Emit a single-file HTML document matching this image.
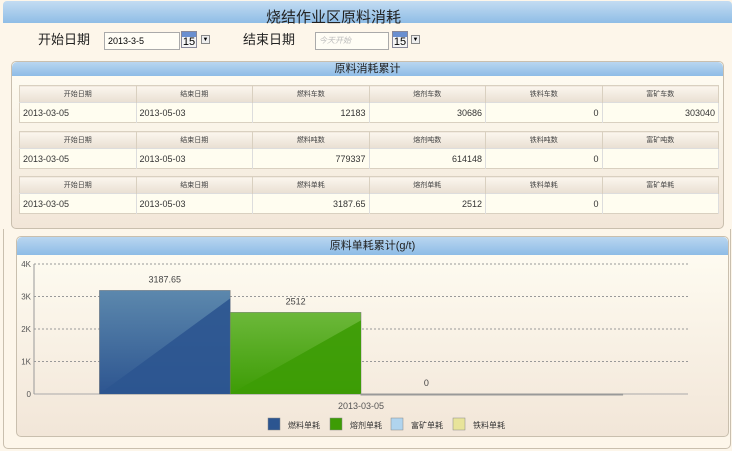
<!DOCTYPE html>
<html><head><meta charset="utf-8"><style>
*{box-sizing:border-box;margin:0;padding:0}
body{width:732px;height:451px;overflow:hidden;background:#fdf6ea;font-family:"Liberation Sans","Noto Sans CJK SC",sans-serif;position:relative}
.bar{position:absolute;background:linear-gradient(#c3dcf2,#8fbde6);}
.panel{position:absolute;border:1px solid #c9bfae;border-radius:5px;background:linear-gradient(#fffdf3,#f2e6d8)}
.ph{height:14px;background:linear-gradient(#b9d6f0,#8ebce6);border-radius:5px 5px 0 0;font-size:11px;text-align:center;line-height:14px;color:#222}
table{position:absolute;left:7px;width:700px;border-collapse:collapse;font-size:8px;table-layout:fixed;border:1px solid #d9d0c0}
th{height:17px;background:linear-gradient(#fbf6ee,#e9dfd2);font-weight:normal;color:#444;border-right:1px solid #d9d0c0;font-size:7px}
td{height:20px;background:#fffdf0;border-right:1px solid #ddd;border-top:1px solid #ddd;font-size:9px;color:#333;padding:0 3px}
td.n{text-align:right}
.lbl{position:absolute;font-size:13px;color:#222}
.inp{position:absolute;height:18px;border:1px solid #aaa;background:#fffdf5;font-size:9px;line-height:16px;padding-left:3px}
.cal{position:absolute;width:16px;height:17px;border:1px solid #889;background:linear-gradient(#6a8fd0 0 5px,#f4f4f4 5px);font-size:11px;text-align:center;line-height:20px}
.dd{position:absolute;width:9px;height:9px;border:1px solid #888;background:#eee;font-size:6px;line-height:8px;text-align:center}
</style></head><body>
<div class="bar" style="left:3px;top:1px;width:729px;height:22px;border-radius:4px 4px 0 0"></div>
<div style="position:absolute;left:266px;top:6px;font-size:15px;color:#222">烧结作业区原料消耗</div>
<div class="lbl" style="left:38px;top:29px">开始日期</div>
<div class="inp" style="left:104px;top:32px;width:76px">2013-3-5</div>
<div class="cal" style="left:181px;top:31px">15</div>
<div class="dd" style="left:201px;top:35px">▼</div>
<div class="lbl" style="left:243px;top:29px">结束日期</div>
<div class="inp" style="left:315px;top:32px;width:74px;color:#bbb;font-style:italic;font-size:8px">今天开始</div>
<div class="cal" style="left:392px;top:31px">15</div>
<div class="dd" style="left:411px;top:35px">▼</div>

<div class="panel" style="left:11px;top:61px;width:713px;height:168px">
<div class="ph">原料消耗累计</div>
<table style="top:23px"><tr><th>开始日期</th><th>结束日期</th><th>燃料车数</th><th>熔剂车数</th><th>铁料车数</th><th>富矿车数</th></tr>
<tr><td>2013-03-05</td><td>2013-05-03</td><td class="n">12183</td><td class="n">30686</td><td class="n">0</td><td class="n">303040</td></tr></table>
<table style="top:69px"><tr><th>开始日期</th><th>结束日期</th><th>燃料吨数</th><th>熔剂吨数</th><th>铁料吨数</th><th>富矿吨数</th></tr>
<tr><td>2013-03-05</td><td>2013-05-03</td><td class="n">779337</td><td class="n">614148</td><td class="n">0</td><td class="n"></td></tr></table>
<table style="top:114px"><tr><th>开始日期</th><th>结束日期</th><th>燃料单耗</th><th>熔剂单耗</th><th>铁料单耗</th><th>富矿单耗</th></tr>
<tr><td>2013-03-05</td><td>2013-05-03</td><td class="n">3187.65</td><td class="n">2512</td><td class="n">0</td><td class="n"></td></tr></table>
</div>
<div class="panel" style="left:3px;top:229px;width:728px;height:220px;background:transparent;border-top:none;border-radius:0 0 5px 5px"></div>
<div class="panel" style="left:16px;top:236px;width:713px;height:201px">
<div class="ph" style="height:18px;line-height:18px;font-size:11px">原料单耗累计(g/t)</div>
</div>
<svg id="chart" width="732" height="451" style="position:absolute;left:0;top:0">
<defs>
<linearGradient id="gb" x1="0" y1="0" x2="0" y2="1"><stop offset="0" stop-color="#5c88ad"/><stop offset="1" stop-color="#2d5590"/></linearGradient>
<linearGradient id="gg" x1="0" y1="0" x2="0" y2="1"><stop offset="0" stop-color="#6cb83a"/><stop offset="1" stop-color="#3d9c05"/></linearGradient>
</defs></svg>
<script>
const categories=["2013-03-05"];
const seriesNames=["燃料单耗","熔剂单耗","富矿单耗","铁料单耗"];
const seriesValues=[[3187.65],[2512],[0],[0]];
const showValueLabel=[true,true,true,false];
const yTicks=[0,1000,2000,3000,4000];
const yTickLabels=["0","1K","2K","3K","4K"];
const colors=["#2c5590","#3d9c05","#b0d4ee","#e8e49a"];
const fills=["url(#gb)","url(#gg)","#b0d4ee","#e8e49a"];
const svg=document.getElementById('chart');const NS="http://www.w3.org/2000/svg";
const X0=34,X1=688,Y0=394,Y1=264,YMAX=4000;
const y=v=>Y0-(v/YMAX)*(Y0-Y1);
function mk(t,a,txt){const e=document.createElementNS(NS,t);for(const k in a)e.setAttribute(k,a[k]);if(txt!==undefined)e.textContent=txt;svg.appendChild(e);return e;}
yTicks.forEach((t,i)=>{
 const g=mk('line',{x1:X0,x2:X1,y1:y(t),y2:y(t),stroke:i?'#999':'#aaa','stroke-dasharray':i?'2,2':'','stroke-width':1});
 
 
 const l=mk('text',{x:X0-3,y:y(t)+3,'text-anchor':'end','font-size':8,fill:'#555'},yTickLabels[i]);
 
 
});
const ax=mk('line',{x1:X0,x2:X0,y1:Y1,y2:Y0,stroke:'#999'});


const catW=(X1-X0)/categories.length, bw=catW*0.8/seriesNames.length;
categories.forEach((c,ci)=>{
 const cx=X0+catW*(ci+0.5), start=cx-bw*seriesNames.length/2;
 seriesValues.forEach((s,si)=>{
  const v=s[ci],bx=start+si*bw,top=y(v),h=Y0-top;
  const r=mk('rect',{x:bx,y:top,width:bw,height:Math.max(h,1),fill:fills[si],stroke:h>0?'#777':'#999','stroke-width':h>0?0.5:1});
  
  
  if(h>4){const p=mk('polygon',{points:`${bx},${Y0} ${bx+bw},${Y0} ${bx+bw},${top+8}`,fill:si===0?'#2c5590':'#3d9c05',opacity:0.9});
   
   }
  if(showValueLabel[si]){
  const t=mk('text',{x:bx+bw/2,y:top-8,'text-anchor':'middle','font-size':9,fill:'#444'},String(v));
  
  }
 });
 const cl=mk('text',{x:cx,y:Y0+15,'text-anchor':'middle','font-size':9,fill:'#555'},c);
 
 
});
const LX=[268,330,391,453];
seriesNames.forEach((n,i)=>{
 const r=mk('rect',{x:LX[i],y:418,width:12,height:12,fill:colors[i],stroke:'#888','stroke-width':0.5});
 
 
 const t=mk('text',{x:LX[i]+20,y:428,'font-size':8,fill:'#333'},n);
 
 
});
</script>
</body></html>
